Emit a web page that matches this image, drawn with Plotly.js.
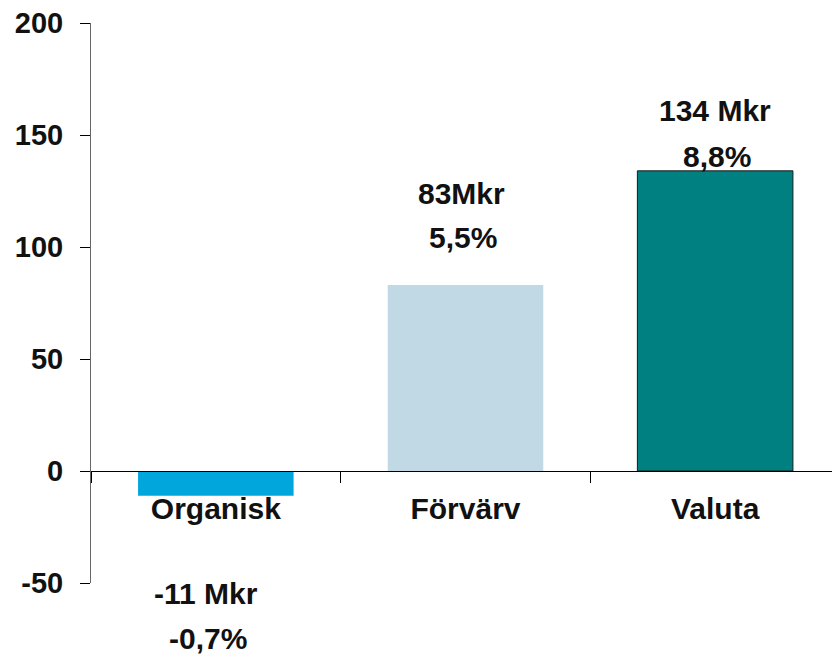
<!DOCTYPE html>
<html>
<head>
<meta charset="utf-8">
<script src="https://cdn.plot.ly/plotly-3.0.1.min.js"></script>
<style>
  body { margin: 0; background: #fff; }
  #gd { width: 832px; height: 655px; }
</style>
</head>
<body>
<div id="gd"></div>
<script>
let categories = ['Organisk', 'Förvärv', 'Valuta'];
let values = [-11, 83, 134];
let amountLabels = ['-11 Mkr', '83Mkr', '134 Mkr'];
let percentLabels = ['-0,7%', '5,5%', '8,8%'];
let yTickVals = [-50, 0, 50, 100, 150, 200];
let yTickText = ['-50', '0', '50', '100', '150', '200'];

let barColors = ['#00A6DC', '#C1D9E5', '#008080'];

// label offsets in px from the bar end: [amount, percent]
let labelShift = [[-98, -143], [92, 48], [60, 14]];
let labelXShift = [-10, -4, 0];

let font = 'Liberation Sans, Arial, sans-serif';

let bars = {
  type: 'bar',
  x: categories,
  y: values,
  width: 0.623,
  marker: {
    color: barColors,
    line: { color: '#1a1a1a', width: [0, 0, 1] }
  },
  hoverinfo: 'x+y'
};

let annotations = [];
categories.forEach(function (c, i) {
  annotations.push({
    x: c, y: values[i], xref: 'x', yref: 'y',
    text: amountLabels[i], showarrow: false,
    yanchor: 'middle', yshift: labelShift[i][0], xshift: labelXShift[i],
    font: { family: font, size: 30, weight: 'bold', color: '#111' }
  });
  annotations.push({
    x: c, y: values[i], xref: 'x', yref: 'y',
    text: percentLabels[i], showarrow: false,
    yanchor: 'middle', yshift: labelShift[i][1], xshift: labelXShift[i] + 2,
    font: { family: font, size: 30, weight: 'bold', color: '#111' }
  });
});

let layout = {
  width: 832,
  height: 655,
  margin: { l: 91, r: 0, t: 23, b: 72 },
  paper_bgcolor: '#fff',
  plot_bgcolor: '#fff',
  showlegend: false,
  font: { family: font, color: '#111' },
  xaxis: {
    type: 'category',
    range: [-0.5, 2.468],
    anchor: 'free',
    position: 0.2,
    showline: true,
    linecolor: '#000',
    linewidth: 1,
    ticks: 'outside',
    tickson: 'boundaries',
    ticklen: 11,
    tickcolor: '#000',
    tickwidth: 1,
    showgrid: false,
    zeroline: false,
    ticklabelstandoff: 11,
    tickfont: { family: font, size: 30, weight: 'bold', color: '#111' }
  },
  yaxis: {
    range: [-50, 200],
    tickmode: 'array',
    tickvals: yTickVals,
    ticktext: yTickText,
    showline: true,
    linecolor: '#666',
    linewidth: 1,
    ticks: 'outside',
    ticklen: 10,
    tickcolor: '#000',
    tickwidth: 1,
    showgrid: false,
    zeroline: false,
    ticklabelstandoff: 11,
    tickfont: { family: font, size: 29, weight: 'bold', color: '#111' }
  },
  annotations: annotations
};

Plotly.newPlot('gd', [bars], layout, { displayModeBar: false });
</script>
</body>
</html>
